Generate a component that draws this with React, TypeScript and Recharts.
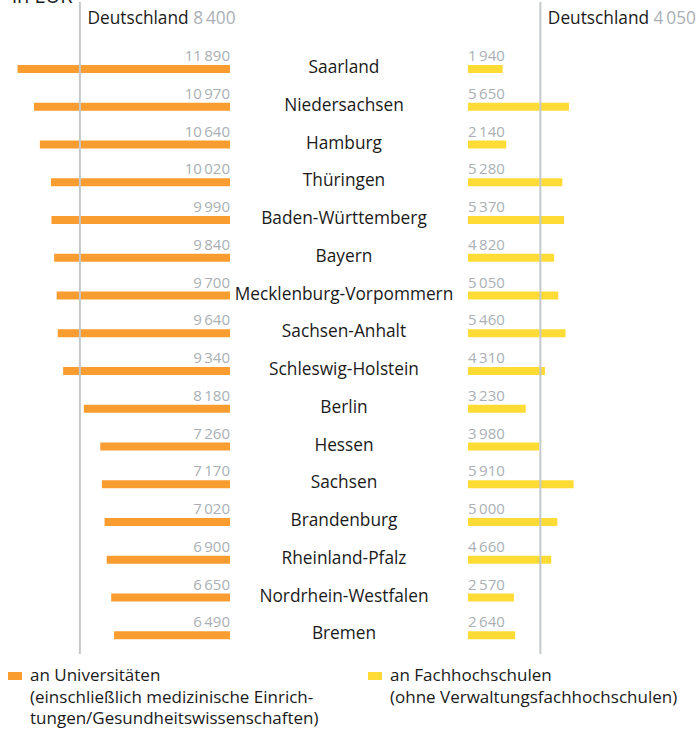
import { Bar, BarChart, Customized, LabelList, Legend, ReferenceLine, XAxis, YAxis } from 'recharts'

// Ausgaben je Studierenden nach Ländern, in EUR
const states = [
  'Saarland',
  'Niedersachsen',
  'Hamburg',
  'Thüringen',
  'Baden-Württemberg',
  'Bayern',
  'Mecklenburg-Vorpommern',
  'Sachsen-Anhalt',
  'Schleswig-Holstein',
  'Berlin',
  'Hessen',
  'Sachsen',
  'Brandenburg',
  'Rheinland-Pfalz',
  'Nordrhein-Westfalen',
  'Bremen',
]
const uniCosts = [11890, 10970, 10640, 10020, 9990, 9840, 9700, 9640, 9340, 8180, 7260, 7170, 7020, 6900, 6650, 6490]
const fhCosts = [1940, 5650, 2140, 5280, 5370, 4820, 5050, 5460, 4310, 3230, 3980, 5910, 5000, 4660, 2570, 2640]

const germanyUni = 8400
const germanyFh = 4050

const seriesNames = { uni: 'an Universitäten', fh: 'an Fachhochschulen' }
const legendOrder = ['uni', 'fh']
const legendNotes: Record<string, string[]> = {
  uni: ['(einschließlich medizinische Einrich-', 'tungen/Gesundheitswissenschaften)'],
  fh: ['(ohne Verwaltungsfachhochschulen)'],
}

const data = states.map((state, i) => ({ state, uni: uniCosts[i], fh: fhCosts[i] }))

const ORANGE = '#f99d31'
const YELLOW = '#fedb35'
const GREY_TEXT = '#aab0b5'
const LINE_GREY = '#c5c8cb'
const FONT = '"Open Sans", "Noto Sans", sans-serif'

// both bar groups share one plot; each numeric axis puts its zero where its bars start
const PLOT_LEFT = 10
const PLOT_RIGHT = 690
const UNI_ZERO = 230
const FH_ZERO = 468
const PX_PER_EUR = 0.01787

const uniDomain = [-(PLOT_RIGHT - UNI_ZERO) / PX_PER_EUR, (UNI_ZERO - PLOT_LEFT) / PX_PER_EUR]
const fhDomain = [-(FH_ZERO - PLOT_LEFT) / PX_PER_EUR, (PLOT_RIGHT - FH_ZERO) / PX_PER_EUR]

const fmt = (v: number) => v.toLocaleString('de-DE').replace('.', '\u2009')

function UniValue(props: any) {
  const { x, y, width, value } = props
  const zeroEnd = Math.max(x, x + width)
  return (
    <text x={zeroEnd} y={y - 4} textAnchor="end" fontSize={15} fill={GREY_TEXT} fontFamily={FONT}>
      {fmt(value)}
    </text>
  )
}

function FhValue(props: any) {
  const { x, y, width, value } = props
  const zeroEnd = Math.min(x, x + width)
  return (
    <text x={zeroEnd} y={y - 4} textAnchor="start" fontSize={15} fill={GREY_TEXT} fontFamily={FONT}>
      {fmt(value)}
    </text>
  )
}

function StateName(props: any) {
  const { x, y, width, height, value } = props
  const zeroEnd = Math.max(x, x + width)
  return (
    <text x={zeroEnd + 114} y={y + height} textAnchor="middle" fontSize={17.3} fill="#1a1a1a" fontFamily={FONT}>
      {value}
    </text>
  )
}

function AverageLine(props: any) {
  const { x1, y1, x2, y2 } = props
  return <line x1={x1} y1={y1} x2={x2} y2={y2 - 8} stroke={LINE_GREY} strokeWidth={2} />
}

function averageLabel(value: number) {
  return (props: any) => {
    const { x, y } = props.viewBox
    return (
      <text x={x + 7.5} y={y + 14} fontSize={17.3} fontFamily={FONT} fill="#1a1a1a">
        Deutschland
        <tspan fill={GREY_TEXT}> {fmt(value)}</tspan>
      </text>
    )
  }
}

function LegendBox({ payload }: any) {
  const lefts = [8, 368]
  const entries = legendOrder
    .map((key) => (payload || []).find((p: any) => p.dataKey === key))
    .filter(Boolean)
  return (
    <div style={{ position: 'relative', height: 75, fontFamily: FONT, fontSize: 17, lineHeight: '21.5px', color: '#1a1a1a' }}>
      {entries.map((entry: any, i: number) => (
        <div key={entry.value} style={{ position: 'absolute', left: lefts[i], top: 10, whiteSpace: 'nowrap' }}>
          <span style={{ position: 'absolute', left: 0, top: 8, width: 14, height: 8, background: entry.color }} />
          <div style={{ marginLeft: 22 }}>
            <div>{entry.value}</div>
            {(legendNotes[entry.dataKey] || []).map((line) => (
              <div key={line}>{line}</div>
            ))}
          </div>
        </div>
      ))}
    </div>
  )
}

export default function App() {
  return (
    <div style={{ position: 'absolute', top: 0, left: 0, width: 696, height: 729, background: '#fff' }}>
      <BarChart
        width={696}
        height={729}
        data={data}
        layout="vertical"
        margin={{ top: 10, right: 696 - PLOT_RIGHT, left: PLOT_LEFT, bottom: 0 }}
      >
        <Customized
          component={() => (
            <text x={12} y={3} fontSize={20} fontFamily={FONT} fill="#1a1a1a">
              in EUR
            </text>
          )}
        />
        <XAxis xAxisId="uni" type="number" domain={uniDomain} reversed allowDataOverflow hide />
        <XAxis xAxisId="fh" type="number" domain={fhDomain} allowDataOverflow hide />
        <YAxis yAxisId="uni" type="category" dataKey="state" padding={{ top: 40, bottom: 0 }} hide />
        <YAxis yAxisId="fh" type="category" dataKey="state" padding={{ top: 40, bottom: 0 }} hide />
        <ReferenceLine
          xAxisId="uni"
          yAxisId="uni"
          x={germanyUni}
          shape={AverageLine}
          label={averageLabel(germanyUni)}
        />
        <ReferenceLine
          xAxisId="fh"
          yAxisId="fh"
          x={germanyFh}
          shape={AverageLine}
          label={averageLabel(germanyFh)}
        />
        <Bar
          dataKey="uni"
          name={seriesNames.uni}
          xAxisId="uni"
          yAxisId="uni"
          fill={ORANGE}
          barSize={8}
          isAnimationActive={false}
        >
          <LabelList dataKey="uni" content={UniValue} />
          <LabelList dataKey="state" content={StateName} />
        </Bar>
        <Bar
          dataKey="fh"
          name={seriesNames.fh}
          xAxisId="fh"
          yAxisId="fh"
          fill={YELLOW}
          barSize={8}
          isAnimationActive={false}
        >
          <LabelList dataKey="fh" content={FhValue} />
        </Bar>
        <Legend
          verticalAlign="bottom"
          content={LegendBox}
          wrapperStyle={{ left: 0, width: 696, height: 75 }}
        />
      </BarChart>
    </div>
  )
}
